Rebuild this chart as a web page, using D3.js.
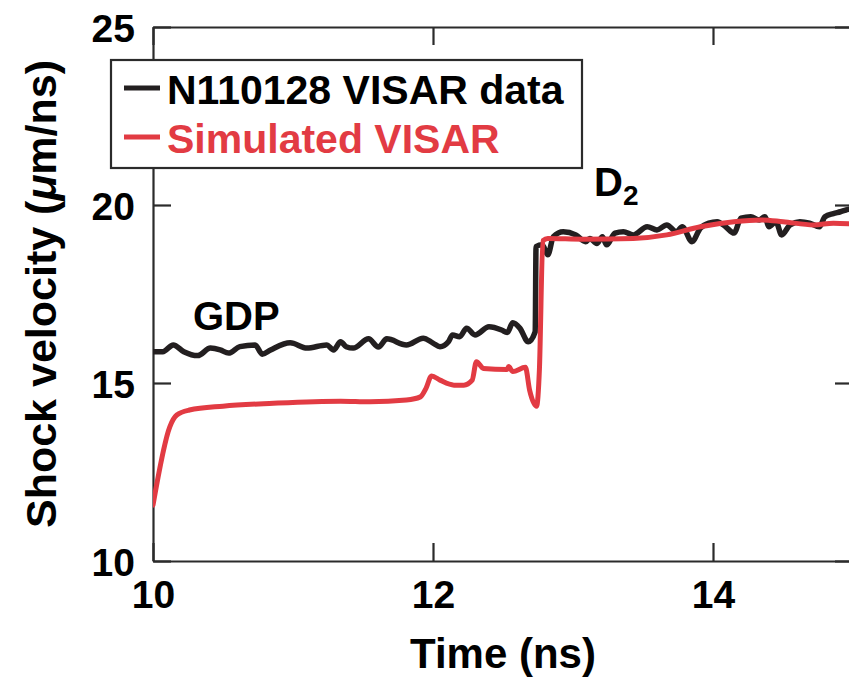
<!DOCTYPE html>
<html>
<head>
<meta charset="utf-8">
<script src="https://cdn.jsdelivr.net/npm/d3@7"></script>
<style>
  html, body { margin: 0; padding: 0; background: #fff; }
  svg { display: block; }
  text { font-family: "Liberation Sans", Arial, Helvetica, sans-serif; font-weight: bold; }
</style>
</head>
<body>
<svg id="chart" width="849" height="678"></svg>
<script>
// ---- Data ----
const visarTime = [10.0, 10.07, 10.145, 10.22, 10.32, 10.41, 10.48, 10.54, 10.62, 10.73, 10.78, 10.84, 10.98, 11.10, 11.24, 11.29, 11.34, 11.38, 11.43, 11.54, 11.61, 11.67, 11.81, 11.93, 12.0, 12.05, 12.11, 12.14, 12.19, 12.24, 12.30, 12.40, 12.49, 12.53, 12.57, 12.62, 12.68, 12.73, 12.736, 12.78, 12.82, 12.86, 12.93, 13.02, 13.09, 13.12, 13.17, 13.21, 13.24, 13.30, 13.36, 13.43, 13.53, 13.60, 13.67, 13.74, 13.78, 13.85, 13.91, 13.97, 14.03, 14.09, 14.15, 14.20, 14.27, 14.33, 14.37, 14.40, 14.45, 14.49, 14.55, 14.62, 14.69, 14.76, 14.80, 14.86, 14.91, 14.95, 15.0];
const visarVel  = [15.88, 15.88, 16.07, 15.88, 15.77, 15.98, 15.93, 15.84, 16.02, 16.07, 15.81, 15.93, 16.13, 15.98, 16.07, 15.93, 16.16, 16.02, 15.98, 16.24, 16.01, 16.24, 16.07, 16.26, 16.12, 16.02, 16.16, 16.35, 16.30, 16.54, 16.35, 16.58, 16.49, 16.42, 16.69, 16.54, 16.16, 16.44, 18.83, 18.88, 18.60, 19.11, 19.25, 19.16, 18.97, 19.06, 18.92, 19.11, 18.88, 19.21, 19.25, 19.16, 19.39, 19.30, 19.44, 19.25, 19.39, 18.97, 19.35, 19.49, 19.53, 19.39, 19.21, 19.63, 19.67, 19.58, 19.67, 19.39, 19.53, 19.16, 19.44, 19.53, 19.49, 19.39, 19.67, 19.76, 19.81, 19.86, 19.90];

const simTime = [10.0, 10.12, 10.17, 10.26, 10.50, 10.86, 11.34, 11.55, 11.81, 11.91, 11.95, 11.99, 12.05, 12.15, 12.22, 12.28, 12.31, 12.36, 12.53, 12.54, 12.57, 12.66, 12.69, 12.74, 12.76, 12.785, 12.82, 13.07, 13.43, 13.67, 13.91, 14.15, 14.34, 14.50, 14.72, 14.86, 15.0];
const simVel  = [11.57, 13.77, 14.10, 14.24, 14.35, 14.43, 14.49, 14.47, 14.52, 14.61, 14.85, 15.20, 15.08, 14.94, 14.94, 15.08, 15.60, 15.41, 15.38, 15.46, 15.32, 15.44, 14.80, 14.35, 15.37, 19.00, 19.06, 19.04, 19.06, 19.16, 19.39, 19.53, 19.58, 19.53, 19.44, 19.49, 19.47];

const xTicks = [10, 12, 14];
const yTicks = [10, 15, 20, 25];
const seriesNames = ["N110128 VISAR data", "Simulated VISAR"];
const seriesColors = ["#231f20", "#e23b43"];
const annotations = [
  { label: "GDP", t: 10.285, v: 16.5 },
  { label: "D", sub: "2", t: 13.15, v: 20.25 }
];

// ---- Layout ----
const svg = d3.select("#chart");
const x = d3.scaleLinear().domain([10, 15]).range([153, 853]);
const y = d3.scaleLinear().domain([10, 25]).range([561, 27]);
const axisColor = "#2b2b2b";

svg.append("clipPath").attr("id", "plotclip")
  .append("rect").attr("x", 153).attr("y", 27).attr("width", 700).attr("height", 534);

// Axes
function styleAxis(g, labels) {
  g.selectAll(".domain").attr("stroke", axisColor).attr("stroke-width", 2.2);
  g.selectAll(".tick line").attr("stroke", axisColor).attr("stroke-width", 2.2);
  g.selectAll(".tick text")
    .attr("fill", "#000")
    .style("font-size", labels ? "39px" : "0px");
}

svg.append("g").attr("transform", "translate(0,561)")
  .call(d3.axisBottom(x).tickValues(xTicks).tickFormat(d3.format("d")).tickSizeInner(-18).tickSizeOuter(0).tickPadding(19))
  .call(g => styleAxis(g, true))
  .call(g => g.selectAll(".tick text").attr("dy", "0.71em"));

svg.append("g").attr("transform", "translate(0,27)")
  .call(d3.axisTop(x).tickValues(xTicks).tickFormat("").tickSizeInner(-18).tickSizeOuter(0))
  .call(g => styleAxis(g, false));

svg.append("g").attr("transform", "translate(153,0)")
  .call(d3.axisLeft(y).tickValues(yTicks).tickFormat(d3.format("d")).tickSizeInner(-18).tickSizeOuter(0).tickPadding(18))
  .call(g => styleAxis(g, true))
  .call(g => g.selectAll(".tick text").attr("dy", "0.36em"));

svg.append("g").attr("transform", "translate(853,0)")
  .call(d3.axisRight(y).tickValues(yTicks).tickFormat("").tickSizeInner(-18).tickSizeOuter(0))
  .call(g => styleAxis(g, false));

// Lines
const plot = svg.append("g").attr("clip-path", "url(#plotclip)");
const line = d3.line().x(d => x(d[0])).y(d => y(d[1])).curve(d3.curveMonotoneX);

plot.append("path")
  .datum(d3.zip(visarTime, visarVel))
  .attr("d", line)
  .attr("fill", "none")
  .attr("stroke", seriesColors[0])
  .attr("stroke-width", 5.5)
  .attr("stroke-linejoin", "round")
  .attr("stroke-linecap", "round");

plot.append("path")
  .datum(d3.zip(simTime, simVel))
  .attr("d", line)
  .attr("fill", "none")
  .attr("stroke", seriesColors[1])
  .attr("stroke-width", 5)
  .attr("stroke-linejoin", "round")
  .attr("stroke-linecap", "round");

// Annotations
annotations.forEach(a => {
  const t = svg.append("text")
    .attr("x", x(a.t)).attr("y", y(a.v))
    .attr("fill", "#000")
    .style("font-size", "40px");
  t.append("tspan").text(a.label);
  if (a.sub) {
    t.append("tspan").attr("dy", 9).style("font-size", "28px").text(a.sub);
  }
});

// Legend
const legend = svg.append("g");
legend.append("rect")
  .attr("x", 111).attr("y", 60).attr("width", 471).attr("height", 108)
  .attr("fill", "#fff").attr("stroke", axisColor).attr("stroke-width", 2.2);
seriesNames.forEach((name, i) => {
  const cy = 88 + i * 49;
  legend.append("line")
    .attr("x1", 124).attr("x2", 160).attr("y1", cy).attr("y2", cy)
    .attr("stroke", seriesColors[i]).attr("stroke-width", 5);
  legend.append("text")
    .attr("x", 167).attr("y", cy + 16)
    .attr("fill", i === 0 ? "#000" : seriesColors[1])
    .style("font-size", "41px")
    .text(name);
});

// Axis titles
svg.append("text")
  .attr("x", 503).attr("y", 668)
  .attr("text-anchor", "middle")
  .attr("fill", "#000")
  .style("font-size", "42px")
  .text("Time (ns)");

const yt = svg.append("text")
  .attr("transform", "translate(56,294) rotate(-90)")
  .attr("text-anchor", "middle")
  .attr("fill", "#000")
  .style("font-size", "43px");
yt.append("tspan").text("Shock velocity (");
yt.append("tspan").style("font-style", "italic").text("\u03BC");
yt.append("tspan").text("m/ns)");
</script>
</body>
</html>
